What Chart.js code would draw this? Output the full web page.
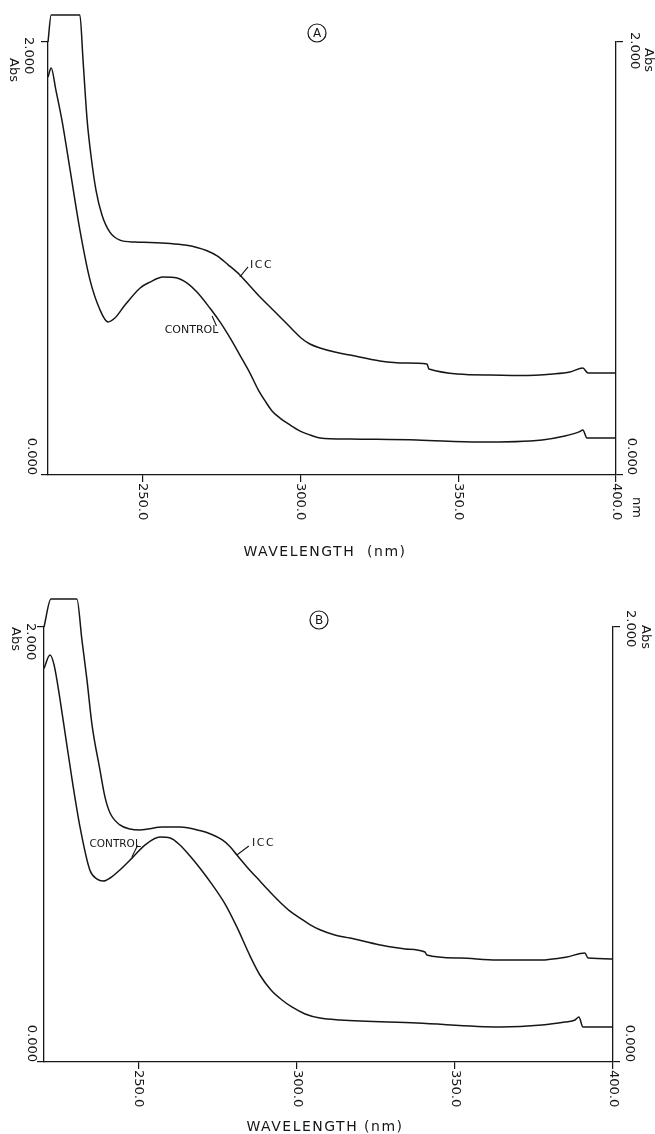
<!DOCTYPE html>
<html><head><meta charset="utf-8">
<script src="https://cdn.jsdelivr.net/npm/chart.js@4.4.1/dist/chart.umd.min.js"></script>
<style>
html,body{margin:0;padding:0;background:#fff;width:655px;height:1134px;overflow:hidden}
canvas{position:absolute;left:0}
#cA{top:0}
#cB{top:585px}
</style></head><body>
<canvas id="cA" width="655" height="585"></canvas>
<canvas id="cB" width="655" height="549"></canvas>
<script>
// ---------- data ----------
const X_MIN = 220, X_MAX = 400;
const Y_MIN = 0, Y_MAX = 2;
const X_TICKS = [250, 300, 350, 400];
const X_TICK_LABELS = ['250.0', '300.0', '350.0', '400.0'];
const Y_TICKS = [0, 2];
const Y_TICK_LABELS = ['0.000', '2.000'];
const Y_UNIT = 'Abs';
const X_TITLE_A = 'WAVELENGTH  (nm)';
const X_TITLE_B = 'WAVELENGTH (nm)';
const SERIES_NAMES = ['ICC', 'CONTROL'];

// Panel A
const A_ICC_NM  = [220,221.0,230.1,231.1,232.4,233.6,235.2,237.1,239.6,242.8,247.6,252.3,258.7,263.4,267.2,270.4,273.6,277.0,280.8,284.0,287.2,291.0,294.5,297.6,300.2,303.0,306.2,310.9,315.7,325.2,333.1,340.1,340.7,360.1,369.6,380.0,385.4,389.5,391.1,400];
const A_ICC_ABS = [2.0,2.125,2.125,1.917,1.640,1.478,1.316,1.201,1.122,1.085,1.076,1.074,1.069,1.062,1.051,1.036,1.012,0.972,0.924,0.873,0.822,0.767,0.716,0.670,0.633,0.605,0.587,0.568,0.554,0.527,0.517,0.513,0.490,0.462,0.460,0.467,0.476,0.494,0.471,0.471];
const A_CTRL_NM  = [220,221.0,222.5,224.4,227.0,230.1,233.3,236.5,239.0,241.2,244.4,249.2,252.3,256.4,260.9,264.0,267.2,271.3,274.5,277.7,280.8,284.0,286.5,288.8,291.0,293.5,296.7,299.9,303.0,306.2,315.7,336.9,356.6,376.6,383.8,388.3,389.5,390.8,400];
const A_CTRL_ABS = [1.838,1.880,1.778,1.640,1.409,1.132,0.901,0.762,0.707,0.725,0.785,0.864,0.891,0.915,0.910,0.887,0.845,0.771,0.707,0.633,0.554,0.471,0.397,0.342,0.296,0.263,0.231,0.203,0.185,0.171,0.166,0.162,0.152,0.162,0.180,0.199,0.208,0.171,0.171];

// Panel B
const B_ICC_NM  = [220,222.2,230.4,232.0,233.6,235.2,237.7,239.3,240.9,244.0,247.2,250.4,257.6,263.0,269.3,273.1,276.3,278.8,281.0,284.2,288.3,291.5,294.6,297.8,301.0,304.1,307.3,312.0,316.8,326.3,334.2,340.5,341.1,351.6,363.3,376.9,385.4,391.1,392.1,400];
const B_ICC_ABS = [2.0,2.129,2.129,1.940,1.756,1.549,1.343,1.218,1.145,1.090,1.071,1.067,1.080,1.080,1.064,1.046,1.022,0.991,0.952,0.897,0.832,0.782,0.736,0.694,0.662,0.632,0.608,0.584,0.570,0.538,0.520,0.506,0.492,0.478,0.469,0.469,0.483,0.501,0.478,0.474];
const B_CTRL_NM  = [220,221.9,223.2,225.1,227.0,228.9,231.4,234.5,236.8,238.7,240.9,244.0,248.2,252.0,256.7,259.9,263.0,266.2,269.3,273.1,277.3,281.0,285.2,288.3,291.8,295.3,298.4,302.6,307.3,313.6,338.0,364.2,377.5,384.8,388.0,389.2,390.5,400];
const B_CTRL_ABS = [1.81,1.871,1.825,1.664,1.480,1.297,1.080,0.883,0.841,0.832,0.846,0.883,0.943,0.998,1.034,1.030,0.998,0.947,0.892,0.818,0.726,0.621,0.487,0.400,0.331,0.285,0.253,0.221,0.202,0.193,0.179,0.161,0.170,0.184,0.193,0.207,0.161,0.161];

// ---------- layout / style ----------
const INK = '#161616';
const FONT = '"DejaVu Sans", "Liberation Sans", sans-serif';

const LAYOUT_A = {
  letter: 'A', title: X_TITLE_A,
  pad: {top: 42, left: 38, right: 29, bottom: 100},
  circle: [317, 33],
  leftTop: {num: [28, -5], unit: [13, 16]},
  rightTop: {num: [634, -10], unit: [648, 6]},
  leftZero: 31, rightZero: 631,
  nm: [636, 22],
  titleXY: [325, 552],
  iccLeader: [[280.8, 0.915], [283.4, 0.961]], iccText: [284.0, 0.970],
  ctrlLeader: [[272.0, 0.734], [273.4, 0.688]], ctrlText: [274.0, 0.668], ctrlFont: 11
};
const LAYOUT_B = {
  letter: 'B', title: X_TITLE_B,
  pad: {top: 42, left: 34, right: 32, bottom: 62},
  circle: [319, 35],
  leftTop: {num: [30, -4], unit: [15, 0]},
  rightTop: {num: [630, -17], unit: [645, -2]},
  leftZero: 31, rightZero: 629,
  nm: null,
  titleXY: [325, 542],
  iccLeader: [[281.0, 0.952], [284.8, 0.993]], iccText: [285.8, 1.007],
  ctrlLeader: [[247.8, 0.943], [249.6, 0.995]], ctrlText: [250.6, 1.002], ctrlFont: 10.5
};

function rotText(ctx, txt, x, y, align) {
  ctx.save();
  ctx.translate(x, y);
  ctx.rotate(Math.PI / 2);
  ctx.textAlign = align || 'left';
  ctx.textBaseline = 'middle';
  ctx.fillText(txt, 0, 0);
  ctx.restore();
}

const decor = {
  id: 'decor',
  afterDraw(chart, args, opts) {
    const L = opts.L;
    const ctx = chart.ctx;
    const xs = chart.scales.x, ys = chart.scales.y;
    const base = ys.getPixelForValue(Y_MIN), top = ys.getPixelForValue(Y_MAX);
    const px = v => xs.getPixelForValue(v), py = v => ys.getPixelForValue(v);
    ctx.save();
    ctx.fillStyle = INK; ctx.strokeStyle = INK;
    ctx.font = '13px ' + FONT;
    xs.ticks.forEach(t => rotText(ctx, X_TICK_LABELS[X_TICKS.indexOf(t.value)], px(t.value), base + 8, 'left'));
    rotText(ctx, Y_TICK_LABELS[1], L.leftTop.num[0], top + L.leftTop.num[1], 'left');
    rotText(ctx, Y_UNIT, L.leftTop.unit[0], top + L.leftTop.unit[1], 'left');
    rotText(ctx, Y_TICK_LABELS[1], L.rightTop.num[0], top + L.rightTop.num[1], 'left');
    rotText(ctx, Y_UNIT, L.rightTop.unit[0], top + L.rightTop.unit[1], 'left');
    rotText(ctx, Y_TICK_LABELS[0], L.leftZero, base, 'right');
    rotText(ctx, Y_TICK_LABELS[0], L.rightZero, base, 'right');
    if (L.nm) rotText(ctx, 'nm', L.nm[0], base + L.nm[1], 'left');
    ctx.save();
    ctx.font = '14px ' + FONT;
    ctx.letterSpacing = '1.5px';
    ctx.textAlign = 'center'; ctx.textBaseline = 'middle';
    ctx.fillText(L.title, L.titleXY[0], L.titleXY[1]);
    ctx.restore();
    ctx.lineWidth = 1.2;
    ctx.beginPath(); ctx.arc(L.circle[0], L.circle[1], 9, 0, Math.PI * 2); ctx.stroke();
    ctx.font = '12px ' + FONT;
    ctx.textAlign = 'center'; ctx.textBaseline = 'middle';
    ctx.fillText(L.letter, L.circle[0], L.circle[1] + 0.5);
    ctx.lineWidth = 1.1;
    ctx.beginPath();
    ctx.moveTo(px(L.iccLeader[0][0]), py(L.iccLeader[0][1]));
    ctx.lineTo(px(L.iccLeader[1][0]), py(L.iccLeader[1][1]));
    ctx.moveTo(px(L.ctrlLeader[0][0]), py(L.ctrlLeader[0][1]));
    ctx.lineTo(px(L.ctrlLeader[1][0]), py(L.ctrlLeader[1][1]));
    ctx.stroke();
    ctx.save();
    ctx.font = '11px ' + FONT;
    ctx.letterSpacing = '1.5px';
    ctx.textAlign = 'left'; ctx.textBaseline = 'middle';
    ctx.fillText(SERIES_NAMES[0], px(L.iccText[0]), py(L.iccText[1]));
    ctx.letterSpacing = '0px';
    ctx.font = L.ctrlFont + 'px ' + FONT;
    ctx.textAlign = 'right';
    ctx.fillText(SERIES_NAMES[1], px(L.ctrlText[0]), py(L.ctrlText[1]));
    ctx.restore();
    ctx.restore();
  }
};

function pts(xs, ys) { return xs.map((x, i) => ({x: x, y: ys[i]})); }

function axisY(pos) {
  return {
    type: 'linear', position: pos, min: Y_MIN, max: Y_MAX,
    afterBuildTicks: ax => { ax.ticks = Y_TICKS.map(v => ({value: v})); },
    border: {display: true, color: INK, width: 1.3},
    grid: {display: true, drawOnChartArea: false, drawTicks: true, tickLength: 7, color: INK, lineWidth: 1.2},
    ticks: {display: false},
    afterFit: s => { s.width = 10; }
  };
}

function build(id, icc, ctrl, L) {
  const line = {borderColor: INK, borderWidth: 1.5, pointRadius: 0, fill: false,
                cubicInterpolationMode: 'monotone', clip: false};
  return new Chart(document.getElementById(id), {
    type: 'line',
    data: {datasets: [
      Object.assign({label: SERIES_NAMES[0], data: icc}, line),
      Object.assign({label: SERIES_NAMES[1], data: ctrl}, line)
    ]},
    options: {
      responsive: false, animation: false, devicePixelRatio: 1,
      layout: {padding: L.pad},
      plugins: {legend: {display: false}, tooltip: {enabled: false}, decor: {L: L}},
      scales: {
        x: {
          type: 'linear', min: X_MIN, max: X_MAX,
          afterBuildTicks: ax => { ax.ticks = X_TICKS.map(v => ({value: v})); },
          border: {display: true, color: INK, width: 1.3},
          grid: {display: true, drawOnChartArea: false, drawTicks: true, tickLength: 7, color: INK, lineWidth: 1.2},
          ticks: {display: false},
          afterFit: s => { s.height = 10; }
        },
        y: axisY('left'),
        y2: axisY('right')
      }
    },
    plugins: [decor]
  });
}

build('cA', pts(A_ICC_NM, A_ICC_ABS), pts(A_CTRL_NM, A_CTRL_ABS), LAYOUT_A);
build('cB', pts(B_ICC_NM, B_ICC_ABS), pts(B_CTRL_NM, B_CTRL_ABS), LAYOUT_B);
</script>
</body></html>
